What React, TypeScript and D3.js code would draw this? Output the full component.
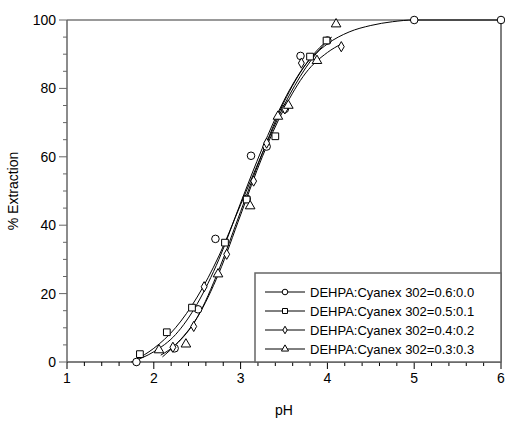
import React, { useEffect, useRef } from 'react';
import * as d3 from 'd3';

// measured points, [pH, % extraction]
const circlePts = [[1.8, 0], [2.24, 4.0], [2.51, 15.4], [2.71, 36], [3.07, 47.7], [3.12, 60.3], [3.3, 63], [3.51, 74], [3.69, 89.5], [4.0, 94], [5.0, 100], [6.0, 100]];
const squarePts = [[1.84, 2.3], [2.15, 8.7], [2.44, 15.9], [2.82, 34.9], [3.07, 47.5], [3.4, 66], [3.8, 89.3], [3.99, 94]];
const diamondPts = [[2.22, 4.3], [2.46, 10.4], [2.58, 22], [2.84, 31.5], [3.15, 52.9], [3.3, 64], [3.51, 74], [3.7, 87.4], [4.16, 92.2]];
const trianglePts = [[2.06, 3.5], [2.37, 5.2], [2.74, 25.7], [3.11, 45.6], [3.43, 71.8], [3.55, 75], [3.88, 88.1], [4.1, 98.8]];

// fitted curves
const circleFit = [[1.74, 0], [2.0, 3], [2.25, 8], [2.5, 17], [2.75, 30], [3.0, 46.5], [3.25, 62.5], [3.5, 76.5], [3.75, 87], [4.0, 93], [4.25, 96.5], [4.5, 98.4], [4.75, 99.5], [5.0, 100], [6.0, 100]];
const squareFit = [[1.78, 0.5], [2.0, 4], [2.25, 10], [2.5, 19], [2.75, 31], [3.0, 46], [3.25, 61], [3.5, 75], [3.75, 86], [4.0, 94]];
const diamondFit = [[2.1, 1.5], [2.25, 5], [2.5, 13], [2.75, 26], [3.0, 43], [3.25, 60], [3.5, 74], [3.75, 84.5], [4.0, 90.5], [4.16, 93]];
const triangleFit = [[2.08, 2], [2.25, 5], [2.5, 13], [2.75, 27], [3.0, 44], [3.25, 61], [3.5, 76], [3.75, 87], [4.0, 94], [4.05, 95]];

const seriesNames = [
  'DEHPA:Cyanex 302=0.6:0.0',
  'DEHPA:Cyanex 302=0.5:0.1',
  'DEHPA:Cyanex 302=0.4:0.2',
  'DEHPA:Cyanex 302=0.3:0.3'
];
const xTicks = [1, 2, 3, 4, 5, 6];
const yTicks = [0, 20, 40, 60, 80, 100];

function App() {
  const anchor = useRef<SVGSVGElement>(null);

  useEffect(() => {
    const svg = d3.select(anchor.current);
    svg.selectAll('*').remove();

    const x = d3.scaleLinear().domain([1, 6]).range([67, 501]);
    const y = d3.scaleLinear().domain([0, 100]).range([362, 20]);
    const font = 'Arial, "Liberation Sans", sans-serif';

    // frame
    svg.append('line').attr('x1', x(1)).attr('x2', x(6)).attr('y1', y(100)).attr('y2', y(100)).attr('stroke', '#777').attr('stroke-width', 1.5);
    svg.append('line').attr('x1', x(6)).attr('x2', x(6)).attr('y1', y(100)).attr('y2', y(0)).attr('stroke', '#000');

    // x axis
    const xAxis = svg.append('g').attr('transform', `translate(0,${y(0)})`);
    xAxis.append('line').attr('x1', x(1)).attr('x2', x(6)).attr('stroke', '#000').attr('stroke-width', 1.2);
    d3.range(1, 6.001, 0.2).forEach(v => {
      const major = Math.abs(v - Math.round(v)) < 1e-6;
      xAxis.append('line').attr('x1', x(v)).attr('x2', x(v)).attr('y1', 0).attr('y2', major ? 7 : 4).attr('stroke', '#000');
    });
    xAxis.selectAll('text.tick').data(xTicks).enter().append('text')
      .attr('x', d => x(d)).attr('y', 21).attr('text-anchor', 'middle')
      .style('font-family', font).style('font-size', '14px').text(d => d);

    // y axis
    const yAxis = svg.append('g').attr('transform', `translate(${x(1)},0)`);
    yAxis.append('line').attr('y1', y(0)).attr('y2', y(100)).attr('stroke', '#666').attr('stroke-width', 1.5);
    d3.range(0, 100.001, 5).forEach(v => {
      const major = v % 20 === 0;
      yAxis.append('line').attr('x1', major ? -8 : -4).attr('x2', 0).attr('y1', y(v)).attr('y2', y(v)).attr('stroke', '#666');
    });
    yAxis.selectAll('text.tick').data(yTicks).enter().append('text')
      .attr('x', -11).attr('y', d => y(d)).attr('dy', '0.35em').attr('text-anchor', 'end')
      .style('font-family', font).style('font-size', '14px').text(d => d);

    svg.append('text').attr('transform', `translate(18,${(y(0) + y(100)) / 2}) rotate(-90)`)
      .attr('text-anchor', 'middle').style('font-family', font).style('font-size', '14px').text('% Extraction');
    svg.append('text').attr('x', (x(1) + x(6)) / 2).attr('y', 415).attr('text-anchor', 'middle')
      .style('font-family', font).style('font-size', '14px').text('pH');

    const line = d3.line<number[]>().x(d => x(d[0])).y(d => y(d[1])).curve(d3.curveMonotoneX);
    [circleFit, squareFit, diamondFit, triangleFit].forEach(fit => {
      svg.append('path').attr('d', line(fit)).attr('fill', 'none').attr('stroke', '#000').attr('stroke-width', 1);
    });

    const symbols = [d3.symbolCircle, d3.symbolSquare, d3.symbolDiamond, d3.symbolTriangle];
    const sizes = [45, 45, 30, 40];
    const marker = (i: number, k = 1) => d3.symbol().type(symbols[i]).size(sizes[i] * k)();

    [circlePts, squarePts, diamondPts, trianglePts].forEach((pts, i) => {
      svg.append('g').selectAll('path').data(pts).enter().append('path')
        .attr('transform', d => `translate(${x(d[0])},${y(d[1])})`)
        .attr('d', marker(i)).attr('fill', 'white').attr('stroke', '#000').attr('stroke-width', 1);
    });

    // legend
    const lg = svg.append('g');
    lg.append('rect').attr('x', 255).attr('y', 273).attr('width', 246).attr('height', 89)
      .attr('fill', 'white').attr('stroke', '#666').attr('stroke-width', 1.5);
    seriesNames.forEach((name, i) => {
      const ly = 292 + i * 19;
      lg.append('line').attr('x1', 265).attr('x2', 305).attr('y1', ly).attr('y2', ly).attr('stroke', '#000');
      lg.append('path').attr('transform', `translate(285,${ly})`).attr('d', marker(i, 0.55))
        .attr('fill', 'white').attr('stroke', '#000');
      lg.append('text').attr('x', 310).attr('y', ly).attr('dy', '0.35em')
        .style('font-family', font).style('font-size', '13px').text(name);
    });
  }, []);

  return (
    <svg ref={anchor} width={505} height={422}
      style={{ position: 'absolute', left: 0, top: 0, background: 'white' }} />
  );
}

export default App;
